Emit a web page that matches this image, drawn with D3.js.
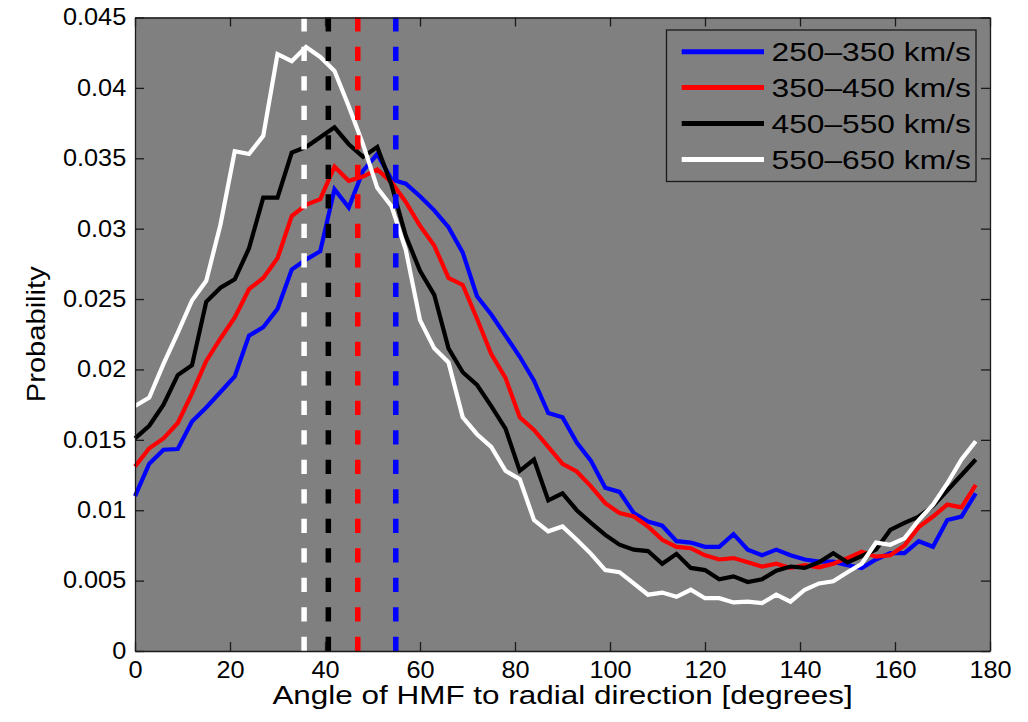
<!DOCTYPE html>
<html><head><meta charset="utf-8">
<script src="https://cdn.jsdelivr.net/npm/d3@7"></script>
<style>
body{margin:0;background:#fff}
svg{display:block}
text{font-family:"Liberation Sans",Arial,Helvetica,sans-serif;fill:#000}
</style></head><body>
<svg id="chart" width="1028" height="722"></svg>
<script>
// ---- data ----
const angles = [0,3,6,9,12,15,18,21,24,27,30,33,36,39,42,45,48,51,54,57,60,63,66,69,72,75,78,81,84,87,90,93,96,99,102,105,108,111,114,117,120,123,126,129,132,135,138,141,144,147,150,153,156,159,162,165,168,171,174,177];

const v250_350 = [0.0110,0.0133,0.0143,0.01435,0.0163,0.0173,0.0184,0.0195,0.0224,0.0230,0.0243,0.0271,0.0278,0.0284,0.0328,0.0315,0.0341,0.0353,0.0335,0.0332,0.0323,0.0313,0.0301,0.0283,0.0252,0.0239,0.0224,0.0209,0.0192,0.0169,0.0166,0.0148,0.0135,0.0116,0.0113,0.0098,0.0092,0.0089,0.0078,0.0077,0.0074,0.0074,0.0083,0.0072,0.0068,0.0072,0.0068,0.0065,0.00635,0.00635,0.0061,0.0059,0.0065,0.00695,0.00695,0.0078,0.0074,0.0093,0.00955,0.0112];

const v350_450 = [0.0131,0.0144,0.0151,0.0162,0.0183,0.0206,0.0222,0.0237,0.0257,0.0265,0.0279,0.0309,0.0317,0.0321,0.0344,0.0334,0.0337,0.0342,0.0333,0.0319,0.0302,0.0288,0.0265,0.0260,0.0236,0.0211,0.0194,0.0166,0.0157,0.0145,0.0133,0.01275,0.0117,0.0105,0.0098,0.00955,0.00885,0.0079,0.0074,0.0073,0.0068,0.0065,0.0066,0.0063,0.0060,0.0062,0.0059,0.0061,0.00595,0.0062,0.0066,0.00705,0.0067,0.0068,0.0075,0.0088,0.00955,0.0104,0.0102,0.0118];

const v450_550 = [0.0151,0.0160,0.0175,0.0196,0.0203,0.0248,0.0258,0.0264,0.0286,0.0322,0.0322,0.0354,0.0358,0.0365,0.0372,0.0360,0.0351,0.0358,0.0331,0.0295,0.0270,0.0253,0.0215,0.0198,0.0189,0.0174,0.0158,0.0128,0.0136,0.0107,0.0112,0.0100,0.0091,0.00825,0.00755,0.0072,0.0071,0.0062,0.0069,0.0059,0.00575,0.0051,0.0053,0.0049,0.0051,0.0057,0.0060,0.0059,0.0063,0.00695,0.0063,0.00675,0.0072,0.0086,0.0091,0.00955,0.0103,0.0114,0.0125,0.0136];

const v550_650 = [0.0174,0.0180,0.0204,0.0226,0.0249,0.0263,0.0303,0.0355,0.0353,0.0366,0.0424,0.0419,0.0429,0.0422,0.0412,0.0387,0.0360,0.0329,0.0316,0.0285,0.0235,0.0215,0.0205,0.0166,0.0154,0.0145,0.0128,0.0122,0.0093,0.0085,0.00885,0.0079,0.0069,0.00575,0.0056,0.0048,0.0040,0.00415,0.00385,0.00435,0.00375,0.00375,0.00345,0.0035,0.0034,0.0040,0.0035,0.00435,0.0048,0.00495,0.0056,0.0062,0.0077,0.00755,0.0080,0.0093,0.0104,0.0119,0.0136,0.0149];

const seriesNames = ["250\u2013350 km/s","350\u2013450 km/s","450\u2013550 km/s","550\u2013650 km/s"];
const seriesColors = ["#0000ff","#ff0000","#000000","#ffffff"];
const medianAngles = [54.9, 46.9, 40.7, 35.6];

const xTicks = [0,20,40,60,80,100,120,140,160,180];
const yTicks = [0,0.005,0.01,0.015,0.02,0.025,0.03,0.035,0.04,0.045];
const yTickLabels = ["0","0.005","0.01","0.015","0.02","0.025","0.03","0.035","0.04","0.045"];
const xLabel = "Angle of HMF to radial direction [degrees]";
const yLabel = "Probability";

// ---- layout ----
const L = 135, R = 990, T = 17.5, B = 651;
const svg = d3.select("#chart");
const x = d3.scaleLinear().domain([0,180]).range([L,R]);
const y = d3.scaleLinear().domain([0,0.045]).range([B,T]);

svg.append("rect").attr("x",L).attr("y",T).attr("width",R-L).attr("height",B-T).attr("fill","#808080");

const allSeries = [v250_350, v350_450, v450_550, v550_650];
const line = d3.line().x((d,i)=>x(angles[i])).y(d=>y(d));
const plot = svg.append("g");
allSeries.forEach((s,k)=>{
  plot.append("path").datum(s).attr("d",line).attr("fill","none")
    .attr("stroke",seriesColors[k]).attr("stroke-width",4.2)
    .attr("stroke-linejoin","miter").attr("stroke-miterlimit",4);
});
medianAngles.forEach((a,k)=>{
  plot.append("line").attr("x1",x(a)).attr("x2",x(a)).attr("y1",y(0)).attr("y2",y(0.045))
    .attr("stroke",seriesColors[k]).attr("stroke-width",5.5).attr("stroke-dasharray","14.3,15.2");
});

// axes
function styleAxis(g){
  g.select(".domain").attr("stroke","#1a1a1a").attr("stroke-width",1.3);
  g.selectAll(".tick line").attr("stroke","#1a1a1a").attr("stroke-width",1.3);
}
const ax = svg.append("g").attr("transform",`translate(0,${B})`)
  .call(d3.axisBottom(x).tickValues(xTicks).tickSizeInner(-9).tickSizeOuter(0).tickPadding(11).tickFormat(d3.format("d")));
styleAxis(ax);
ax.selectAll("text").attr("font-size",23).attr("font-family","Liberation Sans, Arial, sans-serif").attr("fill","#000")
  .attr("transform","scale(1.1,1)");
const axTop = svg.append("g").attr("transform",`translate(0,${T})`)
  .call(d3.axisTop(x).tickValues(xTicks).tickSizeInner(-9).tickSizeOuter(0).tickFormat(""));
styleAxis(axTop);
const ay = svg.append("g").attr("transform",`translate(${L},0)`)
  .call(d3.axisLeft(y).tickValues(yTicks).tickSizeInner(-9).tickSizeOuter(0).tickPadding(8).tickFormat((d,i)=>yTickLabels[i]));
styleAxis(ay);
ay.selectAll("text").attr("font-size",23).attr("font-family","Liberation Sans, Arial, sans-serif").attr("fill","#000")
  .attr("transform","scale(1.1,1)");
const ayR = svg.append("g").attr("transform",`translate(${R},0)`)
  .call(d3.axisRight(y).tickValues(yTicks).tickSizeInner(-9).tickSizeOuter(0).tickFormat(""));
styleAxis(ayR);

// axis labels
svg.append("g").attr("transform",`translate(${(L+R)/2},704) scale(1.21,1)`)
  .append("text").attr("text-anchor","middle").attr("font-size",26).text(xLabel);
svg.append("g").attr("transform",`translate(45,${(T+B)/2}) rotate(-90) scale(1.12,1)`)
  .append("text").attr("text-anchor","middle").attr("font-size",26).text(yLabel);

// legend
const lg = svg.append("g");
lg.append("rect").attr("x",666.5).attr("y",30).attr("width",309.5).attr("height",151.5)
  .attr("fill","#808080").attr("stroke","#1a1a1a").attr("stroke-width",1.3);
seriesNames.forEach((n,k)=>{
  const yy = 51.7 + k*35.9;
  lg.append("line").attr("x1",681.7).attr("x2",764).attr("y1",yy).attr("y2",yy)
    .attr("stroke",seriesColors[k]).attr("stroke-width",5);
  lg.append("g").attr("transform",`translate(771.5,${yy+9.5}) scale(1.22,1)`)
    .append("text").attr("font-size",26).attr("fill","#111").text(n);
});
</script></body></html>
